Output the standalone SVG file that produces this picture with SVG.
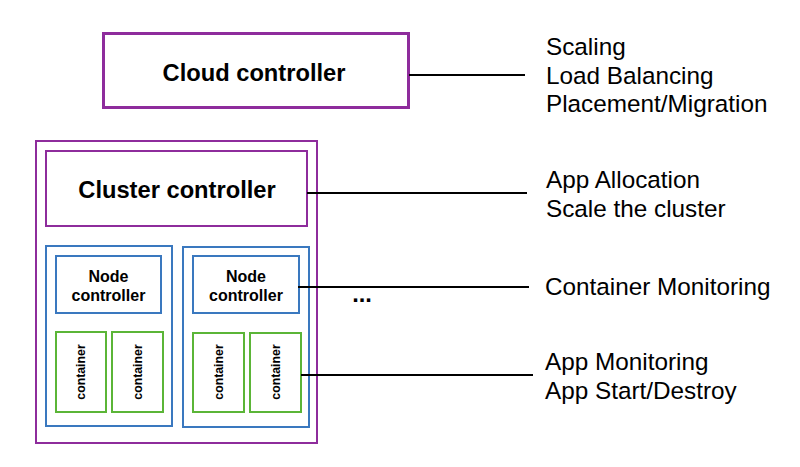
<svg xmlns="http://www.w3.org/2000/svg" width="800" height="467" viewBox="0 0 800 467">
<style>
.purple{fill:#fff;stroke:#8e2c9c}
.blue{fill:#fff;stroke:#3a78bf;stroke-width:2}
.green{fill:#fff;stroke:#5bb537;stroke-width:2}
.big{font-family:"Liberation Sans",Arial,sans-serif;font-weight:bold;font-size:23.7px;fill:#000;text-anchor:middle}
.node{font-family:"Liberation Sans",Arial,sans-serif;font-weight:bold;font-size:16px;fill:#000;text-anchor:middle}
.cont{font-family:"Liberation Sans",Arial,sans-serif;font-weight:bold;font-size:12.3px;fill:#000;text-anchor:middle;dominant-baseline:central}
.lbl{font-family:"Liberation Sans",Arial,sans-serif;font-size:24.3px;fill:#000}
.conn line{stroke:#000;stroke-width:2}
</style>
<rect width="800" height="467" fill="#fff"/>
<g id="cloud-controller">
<rect class="purple" x="103.5" y="33.5" width="305" height="74" stroke-width="3"/>
<text class="big" x="254" y="81">Cloud controller</text>
</g>
<g id="cluster">
<rect class="purple" x="36" y="141" width="281" height="302" stroke-width="2"/>
</g>
<g id="cluster-controller">
<rect class="purple" x="46" y="151" width="261" height="75" stroke-width="2"/>
<text class="big" x="177" y="198">Cluster controller</text>
</g>
<g id="node1">
<rect class="blue" x="46" y="246" width="126" height="180"/>
</g>
<g id="node2">
<rect class="blue" x="183" y="247" width="126" height="180"/>
</g>
<g id="node-controller-1">
<rect class="blue" x="56" y="256" width="105" height="57"/>
<text class="node" x="108.5" y="282">Node</text>
<text class="node" x="108.5" y="300.5">controller</text>
</g>
<g id="node-controller-2">
<rect class="blue" x="193" y="256" width="106" height="57"/>
<text class="node" x="246" y="282">Node</text>
<text class="node" x="246" y="300.5">controller</text>
</g>
<g id="container-1">
<rect class="green" x="56" y="332" width="50" height="80"/>
<text class="cont" transform="translate(81 372) rotate(-90)">container</text>
</g>
<g id="container-2">
<rect class="green" x="112" y="332" width="51" height="80"/>
<text class="cont" transform="translate(137.5 372) rotate(-90)">container</text>
</g>
<g id="container-3">
<rect class="green" x="193" y="333" width="51" height="79"/>
<text class="cont" transform="translate(218.5 372) rotate(-90)">container</text>
</g>
<g id="container-4">
<rect class="green" x="250" y="333" width="51" height="79"/>
<text class="cont" transform="translate(275.5 372) rotate(-90)">container</text>
</g>
<g id="ellipsis">
<text class="big" x="362" y="302">...</text>
</g>
<g class="conn" id="connectors">
<line x1="409" y1="75" x2="525" y2="75"/>
<line x1="307" y1="193" x2="527" y2="193"/>
<line x1="298" y1="287" x2="529" y2="287"/>
<line x1="301" y1="375" x2="533" y2="375"/>
</g>
<g id="labels">
<text class="lbl" x="546" y="55">Scaling</text>
<text class="lbl" x="546" y="84">Load Balancing</text>
<text class="lbl" x="546" y="112">Placement/Migration</text>
<text class="lbl" x="546" y="188">App Allocation</text>
<text class="lbl" x="546" y="217">Scale the cluster</text>
<text class="lbl" x="545" y="295">Container Monitoring</text>
<text class="lbl" x="545" y="370">App Monitoring</text>
<text class="lbl" x="545" y="399">App Start/Destroy</text>
</g>
</svg>
